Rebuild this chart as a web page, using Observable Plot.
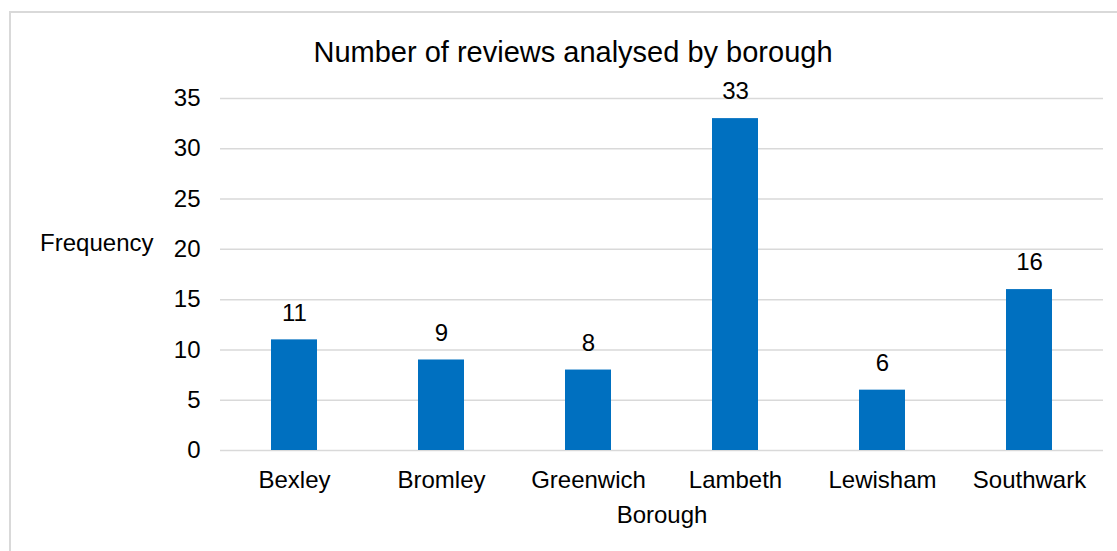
<!DOCTYPE html>
<html>
<head>
<meta charset="utf-8">
<script src="https://cdn.jsdelivr.net/npm/d3@7"></script>
<script src="https://cdn.jsdelivr.net/npm/@observablehq/plot@0.6"></script>
<style>
  html, body { margin: 0; padding: 0; background: #fff; overflow: hidden; }
  #wrap { position: relative; width: 1117px; height: 551px; }
  #border { position: absolute; left: 9px; top: 11px; width: 1200px; height: 700px;
            border-left: 2px solid #d9d9d9; border-top: 2px solid #d9d9d9; }
  #chart { position: absolute; left: 0; top: 0; }
</style>
</head>
<body>
<div id="wrap">
  <div id="border"></div>
  <div id="chart"></div>
</div>
<script>
const boroughs = ["Bexley", "Bromley", "Greenwich", "Lambeth", "Lewisham", "Southwark"];
const counts = [11, 9, 8, 33, 6, 16];
const yTicks = [0, 5, 10, 15, 20, 25, 30, 35];
const titleText = "Number of reviews analysed by borough";
const xLabel = "Borough";
const yLabel = "Frequency";

const data = boroughs.map((b, i) => ({borough: b, count: counts[i]}));
const font = "'Liberation Sans', Arial, sans-serif";

const chart = Plot.plot({
  width: 1117,
  height: 551,
  marginLeft: 220,
  marginRight: 14,
  marginTop: 98,
  marginBottom: 101,
  style: {fontFamily: font, fontSize: "24px", color: "#000", background: "transparent", overflow: "visible"},
  x: {domain: boroughs, paddingInner: 0.6875, paddingOuter: 0.34375, label: null},
  y: {domain: [0, 35], ticks: yTicks, label: null},
  marks: [
    Plot.gridY(yTicks, {stroke: "#d9d9d9", strokeOpacity: 1, strokeWidth: 1.5}),
    Plot.barY(data, {x: "borough", y: "count", fill: "#0070C0"}),
    Plot.text(data, {x: "borough", y: "count", text: d => String(d.count), dy: -27, lineAnchor: "middle", fill: "#000", fontSize: 24}),
    Plot.axisX({tickSize: 0, tickPadding: 20, fontSize: 24, fill: "#000"}),
    Plot.axisY({ticks: yTicks, tickSize: 0, tickPadding: 20, fontSize: 24, fill: "#000"}),
    Plot.text([titleText], {frameAnchor: "top", dx: -89, dy: -46, lineAnchor: "middle", fontSize: 29, fill: "#000"}),
    Plot.text([xLabel], {frameAnchor: "bottom", dy: 65, lineAnchor: "middle", fontSize: 24, fill: "#000"}),
    Plot.text([yLabel], {frameAnchor: "left", textAnchor: "end", dx: -67, dy: -31, lineAnchor: "middle", fontSize: 24, fill: "#000"})
  ]
});
document.getElementById("chart").appendChild(chart);
</script>
</body>
</html>
